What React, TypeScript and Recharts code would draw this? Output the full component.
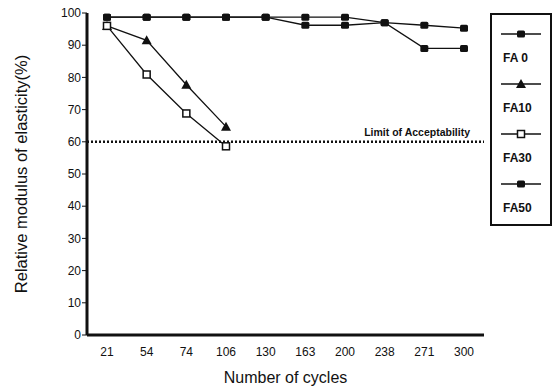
import { Line, LineChart, ReferenceLine, XAxis, YAxis } from "recharts";

const CYCLES = ["21", "54", "74", "106", "130", "163", "200", "238", "271", "300"];
const FA0 = [98.7, 98.7, 98.7, 98.7, 98.7, 98.7, 98.7, 97, 96.2, 95.3];
const FA10 = [96, 91.5, 77.7, 64.7, null, null, null, null, null, null];
const FA30 = [96, 80.9, 68.8, 58.6, null, null, null, null, null, null];
const FA50 = [98.7, 98.7, 98.7, 98.7, 98.7, 96.2, 96.2, 97, 89, 89];
const Y_TICKS = [0, 10, 20, 30, 40, 50, 60, 70, 80, 90, 100];

const SERIES = [
  { key: "fa0", name: "FA 0", values: FA0, marker: "square" },
  { key: "fa10", name: "FA10", values: FA10, marker: "triangle" },
  { key: "fa30", name: "FA30", values: FA30, marker: "open" },
  { key: "fa50", name: "FA50", values: FA50, marker: "square" },
];

const data = CYCLES.map((c, i) => {
  const row: Record<string, string | number | null> = { cycle: c };
  for (const s of SERIES) row[s.key] = s.values[i];
  return row;
});

const FONT = "'Liberation Sans', Arial, sans-serif";

function Marker({ type, cx, cy }: { type: string; cx: number; cy: number }) {
  if (type === "triangle") {
    return <path d={`M${cx},${cy - 5} L${cx + 5},${cy + 4} L${cx - 5},${cy + 4} Z`} fill="#111" />;
  }
  if (type === "open") {
    return <rect x={cx - 3.5} y={cy - 3.5} width={7} height={7} fill="#fff" stroke="#111" strokeWidth={1.5} />;
  }
  return <rect x={cx - 4} y={cy - 3.5} width={8} height={7} rx={1.5} fill="#111" />;
}

function makeDot(type: string) {
  return (props: any) => {
    if (props.value == null || props.cx == null) return <g key={props.key} />;
    return (
      <g key={props.key}>
        <Marker type={type} cx={props.cx} cy={props.cy} />
      </g>
    );
  };
}

function LegendBox() {
  return (
    <div
      style={{
        position: "absolute",
        left: 490,
        top: 13,
        border: "2px solid #111",
        width: 62,
        height: 213,
        background: "#fff",
        fontFamily: FONT,
        boxSizing: "border-box",
      }}
    >
      {SERIES.map((s) => (
        <div key={s.key} style={{ height: 50, position: "relative" }}>
          <svg width={58} height={20} style={{ position: "absolute", left: 0, top: 9 }}>
            <line x1={9} x2={49} y1={10} y2={10} stroke="#111" strokeWidth={1.3} />
            <Marker type={s.marker} cx={29} cy={10} />
          </svg>
          <div style={{ position: "absolute", left: 11, top: 36, fontSize: 12, fontWeight: 700, color: "#111" }}>
            {s.name}
          </div>
        </div>
      ))}
    </div>
  );
}

function LimitLabel(props: any) {
  const vb = props.viewBox || {};
  return (
    <text
      x={vb.x + vb.width - 14}
      y={vb.y - 6}
      textAnchor="end"
      fontSize={10.5}
      fontWeight={700}
      fontFamily={FONT}
      fill="#111"
    >
      Limit of Acceptability
    </text>
  );
}

export default function App() {
  return (
    <div style={{ position: "absolute", left: 0, top: 0, width: 556, height: 389, background: "#fff" }}>
      <LineChart width={556} height={389} data={data} margin={{ top: 13, right: 72, left: 0, bottom: 3 }}>
        <XAxis
          dataKey="cycle"
          xAxisId={0}
          padding={{ left: 20, right: 20 }}
          height={51}
          tickLine={false}
          tickMargin={6}
          axisLine={{ stroke: "#111", strokeWidth: 3 }}
          tick={{ fill: "#111", fontSize: 12, fontFamily: FONT }}
          label={{
            value: "Number of cycles",
            position: "insideBottom",
            offset: 3,
            style: { fill: "#111", fontSize: 16, fontFamily: FONT },
          }}
        />
        <XAxis
          dataKey="cycle"
          xAxisId="top"
          orientation="top"
          height={0}
          tick={false}
          tickLine={false}
          axisLine={{ stroke: "#111", strokeWidth: 3 }}
        />
        <YAxis
          yAxisId={0}
          domain={[0, 100]}
          ticks={Y_TICKS}
          width={87}
          tickSize={5}
          tickMargin={1}
          interval={0}
          axisLine={{ stroke: "#111", strokeWidth: 3 }}
          tickLine={{ stroke: "#111" }}
          tick={{ fill: "#111", fontSize: 12, fontFamily: FONT }}
          label={{
            value: "Relative modulus of elasticity(%)",
            angle: -90,
            position: "insideLeft",
            offset: 21,
            style: { textAnchor: "middle", fill: "#111", fontSize: 16.5, fontFamily: FONT },
          }}
        />
        <YAxis
          yAxisId="right"
          orientation="right"
          domain={[0, 100]}
          width={0}
          tick={false}
          tickLine={false}
          axisLine={{ stroke: "#111", strokeWidth: 3 }}
        />
        <ReferenceLine
          y={60}
          stroke="#111"
          strokeWidth={2.5}
          strokeDasharray="2 2"
          label={<LimitLabel />}
        />
        {SERIES.map((s) => (
          <Line
            key={s.key}
            dataKey={s.key}
            name={s.name}
            type="linear"
            stroke="#111"
            strokeWidth={1.3}
            dot={makeDot(s.marker)}
            activeDot={false}
            connectNulls={false}
            isAnimationActive={false}
          />
        ))}
      </LineChart>
      <LegendBox />
    </div>
  );
}
